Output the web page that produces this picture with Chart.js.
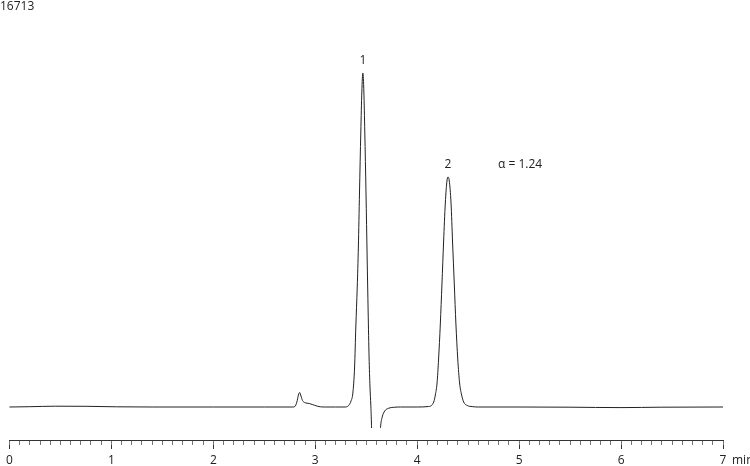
<!DOCTYPE html>
<html>
<head>
<meta charset="utf-8">
<script src="https://cdn.jsdelivr.net/npm/chart.js@4"></script>
<style>
    html, body { margin: 0; padding: 0; background: #fff; }
    #chart { display: block; }
</style>
</head>
<body>
<canvas id="chart" width="750" height="466"></canvas>
<script>
        // Chromatogram trace (time in min, signal in arbitrary units)
        const times = [
            0, 0.2, 0.45, 0.75, 1.05, 1.4, 2.0, 2.5, 2.78,
            2.80, 2.82, 2.835, 2.847, 2.86, 2.875, 2.896, 2.92, 2.945, 2.97, 2.995, 3.02, 3.05, 3.1, 3.2,
            3.297, 3.327, 3.351, 3.369, 3.386, 3.398, 3.412, 3.423, 3.434, 3.447, 3.457, 3.467,
            3.477, 3.486, 3.498, 3.509, 3.519, 3.528, 3.537, 3.545, 3.551, 3.557, 3.600,
            3.640, 3.657, 3.682, 3.721, 3.770, 3.836, 4.0,
            4.110, 4.162, 4.178, 4.195, 4.210, 4.227, 4.243, 4.259, 4.276, 4.292, 4.302,
            4.315, 4.332, 4.347, 4.364, 4.380, 4.398, 4.416, 4.436, 4.456, 4.491, 4.540, 4.599,
            5.0, 5.5, 6.0, 6.4, 7.0
        ];
        const signal = [
            0, 0.3, 0.8, 0.7, 0.2, 0, 0, 0, 0,
            0.5, 5, 12, 14.5, 11, 6.5, 4.5, 3.8, 3.4, 2.5, 1.7, 0.8, 0.2, 0, 0,
            0, 1.5, 6, 14, 40, 80, 120, 160, 214, 275, 315, 334,
            315, 275, 214, 150, 95, 50, 20, 2, -15, -45, -90,
            -20.5, -10, -4, -1.2, -0.3, 0, 0,
            0.5, 5, 12, 24, 48, 83, 123, 165, 204, 226, 230,
            226, 204, 165, 123, 83, 48, 24, 12, 5, 1.5, 0.4, 0,
            0, -0.2, -0.6, -0.2, 0
        ];

        // Axis and annotations
        const xTicksMajor = [0, 1, 2, 3, 4, 5, 6, 7];
        const xUnit = 'min';
        const runTitle = '16713';
        const peakNames = ['1', '2'];
        const peakTimes = [3.467, 4.302];
        const alphaText = '\u03b1 = 1.24';

        const textFont = '12px "Open Sans", sans-serif';
        const ink = '#222';

        const points = times.map((t, i) => ({ x: t, y: signal[i] }));

        // highest signal value near a given time
        function peakHeight(t) {
            let best = -Infinity;
            times.forEach((tt, i) => {
                if (Math.abs(tt - t) < 0.05 && signal[i] > best) best = signal[i];
            });
            return best;
        }

        const labelPlugin = {
            id: 'labels',
            afterDraw(chart) {
                const ctx = chart.ctx;
                const xs = chart.scales.x;
                const ys = chart.scales.y;
                ctx.save();
                ctx.font = textFont;
                ctx.fillStyle = ink;
                ctx.textBaseline = 'middle';

                // run number, top left
                ctx.textAlign = 'left';
                ctx.fillText(runTitle, 0, 7);

                // peak numbers above the apexes
                ctx.textAlign = 'center';
                peakNames.forEach((name, i) => {
                    const px = xs.getPixelForValue(peakTimes[i]);
                    const py = ys.getPixelForValue(peakHeight(peakTimes[i])) - 12;
                    ctx.fillText(name, px, py);
                });

                // selectivity next to peak 2
                ctx.textAlign = 'left';
                const ax = xs.getPixelForValue(peakTimes[1]) + 50;
                const ay = ys.getPixelForValue(peakHeight(peakTimes[1])) - 12;
                ctx.fillText(alphaText, ax, ay);

                // unit after the last tick label
                const last = xTicksMajor[xTicksMajor.length - 1];
                ctx.fillText(xUnit, xs.getPixelForValue(last) + 9, xs.top + 21);
                ctx.restore();
            }
        };

        const chart = new Chart(document.getElementById('chart').getContext('2d'), {
            type: 'line',
            data: {
                datasets: [{
                    data: points,
                    borderColor: ink,
                    borderWidth: 1,
                    pointRadius: 0,
                    fill: false,
                    cubicInterpolationMode: 'monotone',
                    clip: { left: 1, top: 5, right: 1, bottom: -12 }
                }]
            },
            options: {
                responsive: false,
                animation: false,
                layout: { padding: { left: 8, right: 27, top: 30, bottom: 0 } },
                plugins: {
                    legend: { display: false },
                    tooltip: { enabled: false }
                },
                scales: {
                    x: {
                        type: 'linear',
                        position: 'bottom',
                        min: 0,
                        max: 7,
                        afterFit: scale => { scale.height = 26; },
                        afterBuildTicks: scale => {
                            scale.ticks = xTicksMajor.map(v => ({ value: v }));
                        },
                        border: { display: true, color: '#333', width: 1 },
                        grid: {
                            drawOnChartArea: false,
                            drawTicks: true,
                            tickLength: 9,
                            tickColor: '#333'
                        },
                        ticks: {
                            padding: 6,
                            color: ink,
                            font: { family: '"Open Sans", sans-serif', size: 12, lineHeight: 1 },
                            maxRotation: 0,
                            callback: v => String(v)
                        }
                    },
                    xm: {
                        type: 'linear',
                        axis: 'x',
                        position: { y: -33 },
                        min: 0,
                        max: 7,
                        afterFit: scale => { scale.height = 0; },
                        border: { display: false },
                        grid: {
                            drawOnChartArea: false,
                            drawTicks: true,
                            tickLength: 5,
                            tickColor: '#777'
                        },
                        ticks: { display: false, stepSize: 0.1 }
                    },
                    y: {
                        type: 'linear',
                        display: false,
                        min: -33,
                        max: 377
                    }
                }
            },
            plugins: [labelPlugin]
        });
</script>
</body>
</html>
